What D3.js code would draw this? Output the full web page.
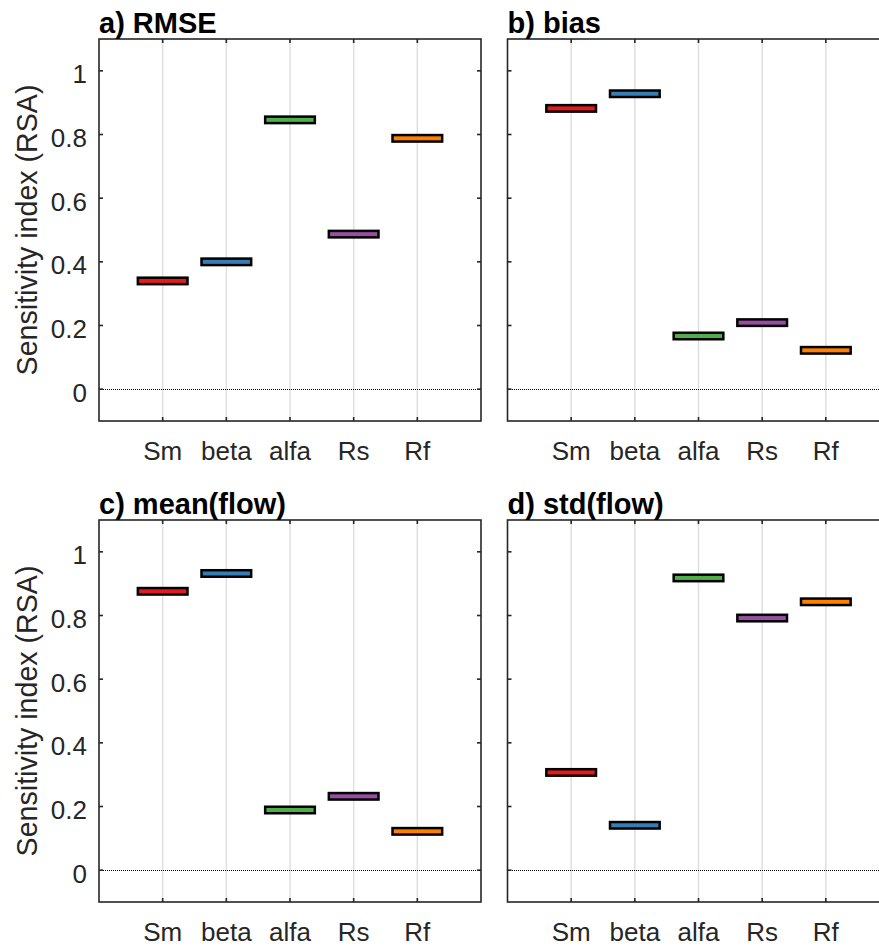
<!DOCTYPE html>
<html>
<head>
<meta charset="utf-8">
<script src="https://cdn.jsdelivr.net/npm/d3@7"></script>
<style>
  body { margin: 0; background: #fff; }
  text { font-family: "Liberation Sans", Arial, Helvetica, sans-serif; fill: #262626; }
  .title { font-weight: bold; font-size: 29px; fill: #000; }
</style>
</head>
<body>
<div id="vis"></div>
<script>
// data
const params = ['Sm', 'beta', 'alfa', 'Rs', 'Rf']
const colors = ['#e41a1c', '#377eb8', '#4daf4a', '#984ea3', '#ff7f00']
const rmse = [0.340, 0.400, 0.846, 0.487, 0.788]
const bias = [0.882, 0.928, 0.167, 0.209, 0.122]
const meanFlow = [0.876, 0.932, 0.189, 0.232, 0.122]
const stdFlow = [0.307, 0.141, 0.918, 0.792, 0.843]
const yTicks = [0, 0.2, 0.4, 0.6, 0.8, 1]
const titles = ['a) RMSE', 'b) bias', 'c) mean(flow)', 'd) std(flow)']
const panelData = [rmse, bias, meanFlow, stdFlow]

;(function() {
  const svg_width = 879,
        svg_height = 947,
        svg = d3.select('#vis').append('svg')
          .attr('width', svg_width)
          .attr('height', svg_height)

  const axW = 382, axH = 382
  const lefts = [99, 507.5], tops = [39, 520]
  const tickLen = 4

  panelData.forEach((vals, p) => {
    const col = p % 2, row = Math.floor(p / 2)
    const x0 = lefts[col], y0 = tops[row]

    const x = d3.scaleLinear().domain([0, 6]).range([x0, x0 + axW])
    const y = d3.scaleLinear().domain([-0.1, 1.1]).range([y0 + axH, y0])

    const g = svg.append('g').attr('class', 'panel' + p)

    // grid lines at categories
    g.selectAll('.grid').data(params).join('line')
      .attr('x1', (d, i) => x(i + 1)).attr('x2', (d, i) => x(i + 1))
      .attr('y1', y0).attr('y2', y0 + axH)
      .attr('stroke', '#dfdfdf').attr('stroke-width', 1.5)

    // zero line (dotted)
    const yz = Math.round(y(0)) + 0.5
    g.append('line')
      .attr('x1', Math.round(x(0))).attr('x2', Math.round(x(6)))
      .attr('y1', yz).attr('y2', yz)
      .attr('stroke', '#000').attr('stroke-width', 1)
      .attr('stroke-dasharray', '1,1')
      .attr('shape-rendering', 'crispEdges')

    // bars (thin boxes)
    const bw = 0.78
    g.selectAll('.bar').data(vals).join('rect')
      .attr('x', (d, i) => x(i + 1 - bw / 2))
      .attr('width', x(bw) - x(0))
      .attr('y', d => y(d) - 3.25)
      .attr('height', 6.5)
      .attr('fill', (d, i) => colors[i])
      .attr('stroke', '#000').attr('stroke-width', 2.5)

    // frame
    g.append('rect')
      .attr('x', x0).attr('y', y0).attr('width', axW).attr('height', axH)
      .attr('fill', 'none').attr('stroke', '#262626').attr('stroke-width', 1.6)

    // inward ticks, all four sides
    const xt = d3.range(1, 6)
    xt.forEach(t => {
      g.append('line').attr('x1', x(t)).attr('x2', x(t))
        .attr('y1', y0 + axH).attr('y2', y0 + axH - tickLen)
        .attr('stroke', '#262626').attr('stroke-width', 1.6)
      g.append('line').attr('x1', x(t)).attr('x2', x(t))
        .attr('y1', y0).attr('y2', y0 + tickLen)
        .attr('stroke', '#262626').attr('stroke-width', 1.6)
    })
    yTicks.forEach(t => {
      g.append('line').attr('x1', x0).attr('x2', x0 + tickLen)
        .attr('y1', y(t)).attr('y2', y(t))
        .attr('stroke', '#262626').attr('stroke-width', 1.6)
      g.append('line').attr('x1', x0 + axW).attr('x2', x0 + axW - tickLen)
        .attr('y1', y(t)).attr('y2', y(t))
        .attr('stroke', '#262626').attr('stroke-width', 1.6)
    })

    // x tick labels
    g.selectAll('.xlab').data(params).join('text')
      .attr('x', (d, i) => x(i + 1))
      .attr('y', y0 + axH + 39)
      .attr('text-anchor', 'middle')
      .style('font-size', '26px')
      .text(d => d)

    // y tick labels + axis label only on left column
    if (col === 0) {
      g.selectAll('.ylab').data(yTicks).join('text')
        .attr('x', x0 - 12)
        .attr('y', d => y(d) + 12.5)
        .attr('text-anchor', 'end')
        .style('font-size', '26px')
        .text(d => d3.format('~g')(d))

      g.append('text')
        .attr('transform', `translate(37,${y0 + axH / 2}) rotate(-90)`)
        .attr('text-anchor', 'middle')
        .style('font-size', '28.6px')
        .text('Sensitivity index (RSA)')
    }

    g.append('text')
      .attr('class', 'title')
      .attr('x', x0)
      .attr('y', y0 - 6)
      .text(titles[p])
  })
}())
</script>
</body>
</html>
